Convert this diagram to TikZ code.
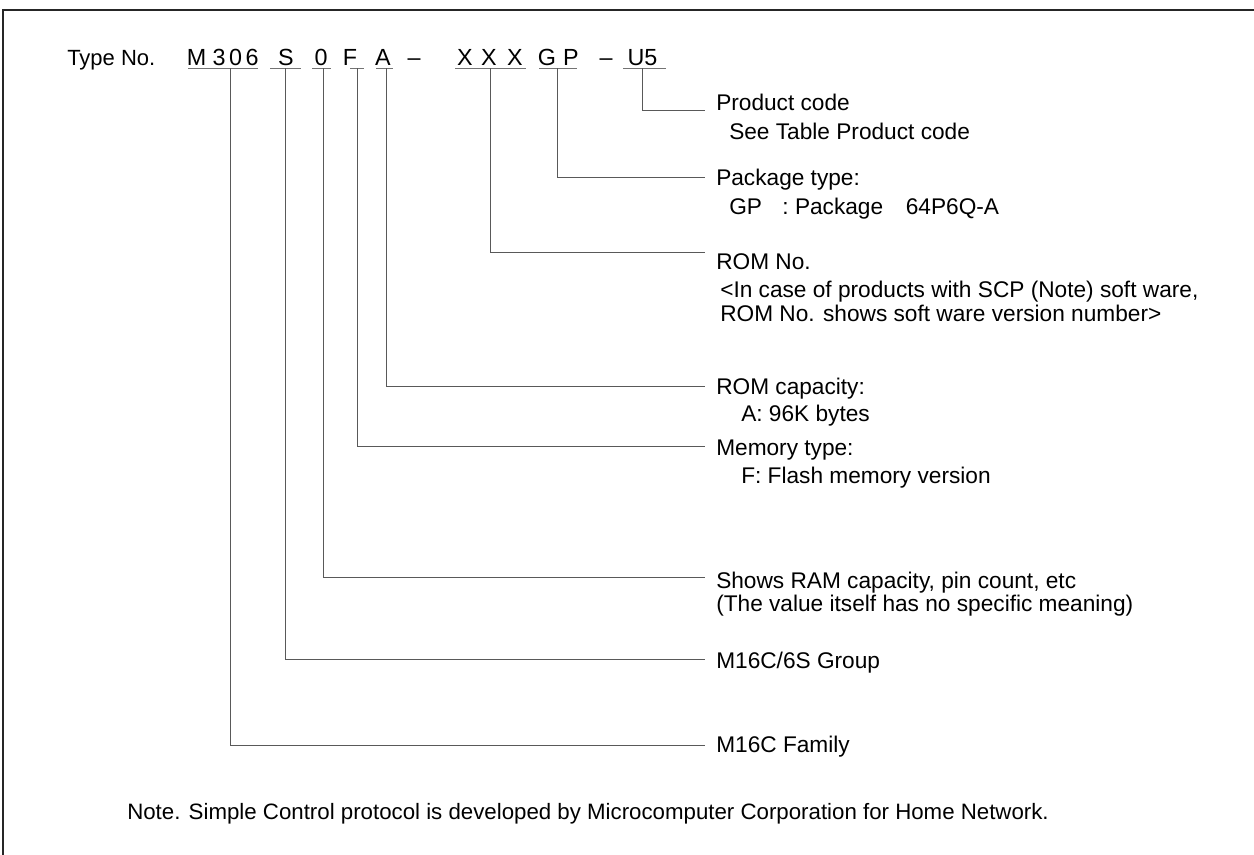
\documentclass[tikz,border=0pt]{standalone}
\usepackage{fontspec}
\setmainfont{Liberation Sans}
\begin{document}
\begin{tikzpicture}[x=0.75pt,y=-0.75pt,
  lbl/.style={anchor=base west,inner sep=0pt,font=\fontsize{17}{20}\selectfont},
  glyph/.style={anchor=base,inner sep=0pt,font=\fontsize{17.5}{20}\selectfont},
  conn/.style={draw=black!65,line width=0.6pt},
  uline/.style={draw=black!55,line width=0.6pt},
  frame/.style={draw=black!85,line width=2.2pt}]
\useasboundingbox (0,0) rectangle (1254,854);
% frame (open to the right and bottom)
\coordinate (fb) at (3,860);
\coordinate (fc) at (3,10);
\coordinate (fr) at (1260,10);
\draw[frame] (fb) -- (fc) -- (fr);

% type number
\node[lbl,font=\fontsize{16.5}{18}\selectfont] (typeno) at (67,65) {Type No.};
\node[glyph] (cM)  at (196.5,65) {M};
\node[glyph] (c3)  at (219,65) {3};
\node[glyph] (c0a) at (235.5,65) {0};
\node[glyph] (c6)  at (252,65) {6};
\node[glyph] (cS)  at (286,65) {S};
\node[glyph] (c0b) at (321,65) {0};
\node[glyph] (cF)  at (350,65) {F};
\node[glyph] (cA)  at (383,65) {A};
\node[glyph] (d1)  at (414,65) {--};
\node[glyph] (cX1) at (465,65) {X};
\node[glyph] (cX2) at (489,65) {X};
\node[glyph] (cX3) at (515,65) {X};
\node[glyph] (cG)  at (547,65) {G};
\node[glyph] (cP)  at (571,65) {P};
\node[glyph] (d2)  at (606,65) {--};
\node[glyph] (cU)  at (642.5,65) {U5};

% underlines
\coordinate (u1a) at (188,68); \coordinate (u1b) at (258,68);
\coordinate (u2a) at (270,68); \coordinate (u2b) at (301,68);
\coordinate (u3a) at (312,68); \coordinate (u3b) at (331,68);
\coordinate (u4a) at (350,68); \coordinate (u4b) at (364,68);
\coordinate (u5a) at (376,68); \coordinate (u5b) at (393,68);
\coordinate (u6a) at (455,68); \coordinate (u6b) at (526,68);
\coordinate (u7a) at (539,68); \coordinate (u7b) at (577,68);
\coordinate (u8a) at (623,68); \coordinate (u8b) at (666,68);
\foreach \i in {1,...,8} {\draw[uline] (u\i a) -- (u\i b);}

% connector starts (on underlines)
\coordinate (sFam) at (230,68);
\coordinate (sGrp) at (285.5,68);
\coordinate (sRam) at (323,68);
\coordinate (sMem) at (357.5,68);
\coordinate (sRomc) at (386,68);
\coordinate (sRomn) at (490.5,68);
\coordinate (sPkg) at (557.5,68);
\coordinate (sPrd) at (642,68);

% connector ends
\coordinate (ePrd) at (705,110);
\coordinate (ePkg) at (705,177);
\coordinate (eRomn) at (705,252);
\coordinate (eRomc) at (705,386);
\coordinate (eMem) at (705,446);
\coordinate (eRam) at (705,577);
\coordinate (eGrp) at (705,659);
\coordinate (eFam) at (705,745);

\draw[conn] (sPrd) |- (ePrd);
\draw[conn] (sPkg) |- (ePkg);
\draw[conn] (sRomn) |- (eRomn);
\draw[conn] (sRomc) |- (eRomc);
\draw[conn] (sMem) |- (eMem);
\draw[conn] (sRam) |- (eRam);
\draw[conn] (sGrp) |- (eGrp);
\draw[conn] (sFam) |- (eFam);

% labels
\node[lbl] (lPrd) at (716,110) {Product code};
\node[lbl] (lPrd2) at (729,139) {See Table Product code};
\node[lbl] (lPkg) at (716,185) {Package type:};
\node[lbl] (lPkg2) at (729,214) {GP\hspace{0.9em}:\ Package\hspace{1.0em}64P6Q-A};
\node[lbl] (lRomn) at (716,269) {ROM No.};
\node[lbl] (lRomn2) at (720,297) {<In case of products with SCP (Note) soft ware,};
\node[lbl] (lRomn3) at (720,321) {ROM No. shows soft ware version number>};
\node[lbl] (lRomc) at (716,394) {ROM capacity:};
\node[lbl] (lRomc2) at (741,421) {A: 96K bytes};
\node[lbl] (lMem) at (716,455) {Memory type:};
\node[lbl] (lMem2) at (741,483) {F: Flash memory version};
\node[lbl] (lRam) at (716,588) {Shows RAM capacity, pin count, etc};
\node[lbl] (lRam2) at (716,611) {(The value itself has no specific meaning)};
\node[lbl] (lGrp) at (716,668) {M16C/6S Group};
\node[lbl] (lFam) at (716,752) {M16C Family};

\node[lbl,font=\fontsize{16.7}{20}\selectfont] (note) at (127,819) {Note. Simple Control protocol is developed by Microcomputer Corporation for Home Network.};
\end{tikzpicture}
\end{document}
